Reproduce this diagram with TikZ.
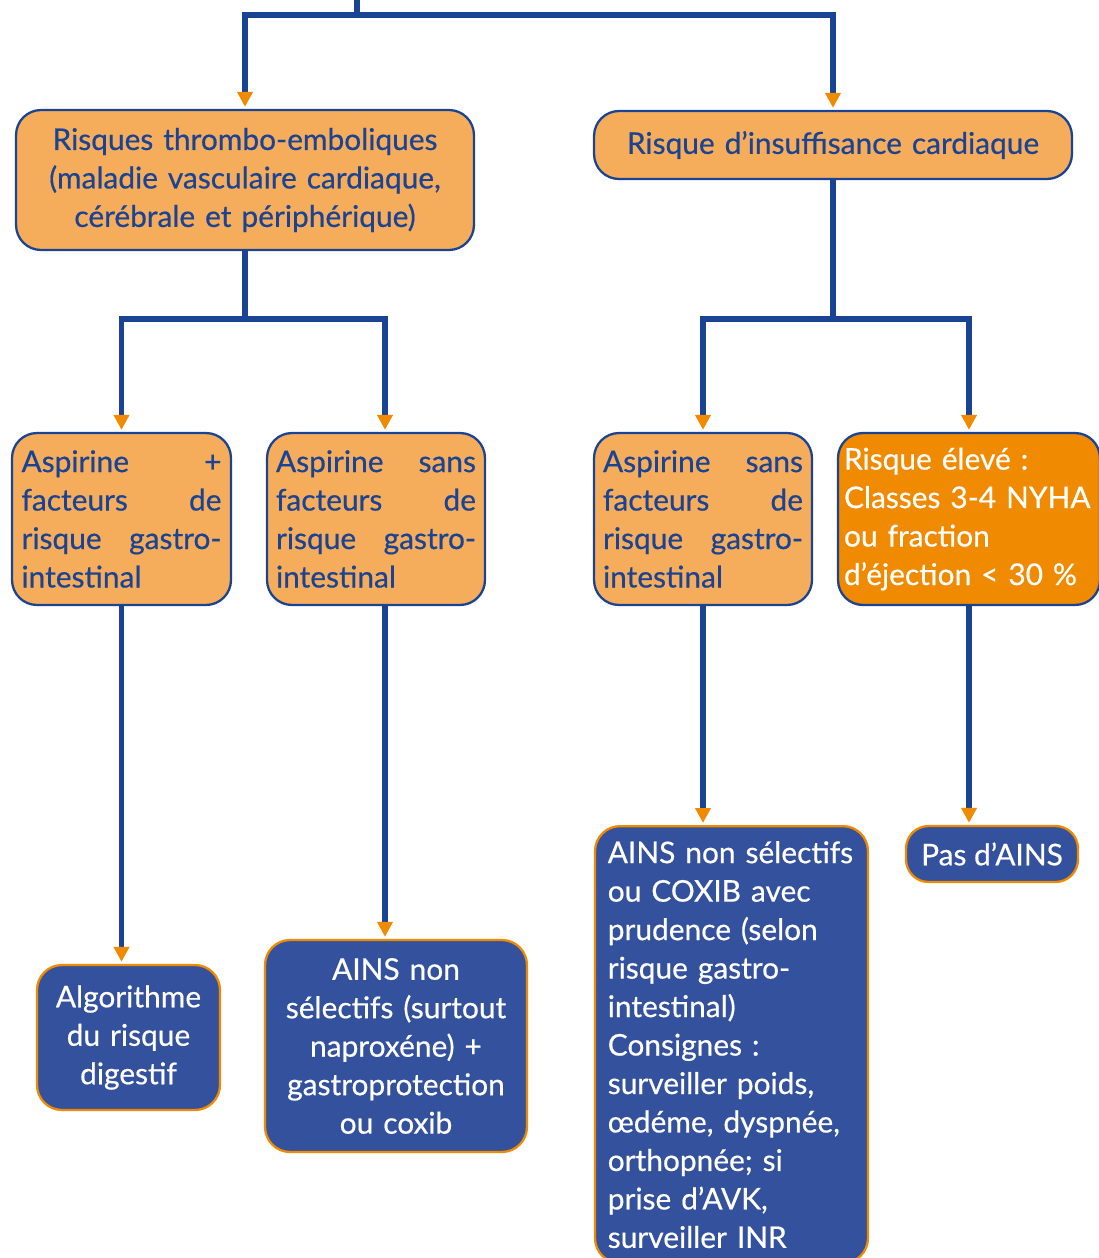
\documentclass[tikz,border=0pt]{standalone}
\usepackage{fontspec}
\setmainfont{Lato}[FakeBold=0.5]
\usetikzlibrary{arrows.meta}
\definecolor{bleu}{HTML}{1B4393}
\definecolor{bleufond}{HTML}{33519D}
\definecolor{orclair}{HTML}{F6AD5B}
\definecolor{orfonce}{HTML}{F08A00}

\begin{document}
\begin{tikzpicture}[x=0.02cm, y=-0.02cm,
    risque/.style ={rectangle, rounded corners=0.5cm, draw=bleu, line width=1.3pt,
      fill=orclair, text=bleu, font=\fontsize{17}{21.9}\selectfont},
    conduite/.style ={rectangle, rounded corners=0.5cm, draw=orfonce, line width=1.3pt,
      fill=bleufond, text=white, font=\fontsize{17}{21.9}\selectfont},
    tronc/.style ={draw=bleu, line width=3.4pt},
    lien/.style ={tronc, -{Triangle[length=0.3cm, width=0.3cm, color=orfonce]}, shorten >=0.04cm}]
   \useasboundingbox (0,0) rectangle (1099,1258);

   \node[risque, text width=8.8cm, align=center, minimum width=9.16cm, minimum height=2.8cm] (A) at (245,180)
     {Risques thrombo-emboliques\\ (maladie vasculaire cardiaque,\\ cérébrale et périphérique)};
   \node[risque, text width=9.2cm, align=center, minimum width=9.56cm, minimum height=1.36cm] (B) at (833,145)
     {Risque d’insuffisance cardiaque};

   \node[risque, text width=4.0cm, align=left, minimum width=4.38cm, minimum height=3.44cm] (C1) at (121.5,519)
     {Aspirine \hfill +\\ facteurs \hfill de\\ risque \hfill gastro-\\ intestinal};
   \node[risque, text width=4.0cm, align=left, minimum width=4.36cm, minimum height=3.44cm] (C2) at (376,519)
     {Aspirine \hfill sans\\ facteurs \hfill de\\ risque \hfill gastro-\\ intestinal};
   \node[risque, text width=4.0cm, align=left, minimum width=4.36cm, minimum height=3.44cm] (C3) at (703,519)
     {Aspirine \hfill sans\\ facteurs \hfill de\\ risque \hfill gastro-\\ intestinal};
   \node[risque, fill=orfonce, text=white, text width=5.0cm, align=left, minimum width=5.24cm, minimum height=3.44cm] (C4) at (969,519)
     {Risque élevé :\\ Classes 3-4 NYHA\\ ou fraction\\ d’éjection < 30 \%};

   \node[conduite, text width=3.4cm, align=center, minimum width=3.66cm, minimum height=2.9cm] (D1) at (128.5,1037.5)
     {Algorithme\\ du risque\\ digestif};
   \node[conduite, text width=4.9cm, align=center, minimum width=5.24cm, minimum height=4.24cm] (D2) at (396,1046)
     {AINS non\\ sélectifs (surtout\\ naproxéne) +\\ gastroprotection\\ ou coxib};
   \node[conduite, text width=4.95cm, align=left, minimum width=5.46cm, inner ysep=0.3cm, anchor=north] (D3) at (731.5,825)
     {AINS non sélectifs\\ ou COXIB avec\\ prudence (selon\\ risque gastro-\\ intestinal)\\ Consignes :\\ surveiller poids,\\ œdéme, dyspnée,\\ orthopnée; si\\ prise d’AVK,\\ surveiller INR};
   \node[conduite, rounded corners=0.45cm, minimum width=3.44cm, minimum height=1.12cm] (D4) at (992,854)
     {Pas d’AINS};

   \coordinate (O) at (357,-10);
   \draw[tronc] (O) -- (357,15) coordinate (O1);
   \draw[lien] (O1) -| (A.north);
   \draw[lien] (O1) -| (B.north);

   \draw[tronc] (A.south) -- ++(0,68) coordinate (A1);
   \draw[lien] (A1) -| (C1.north);
   \draw[lien] (A1) -| ([xshift=0.18cm]C2.north);
   \draw[tronc] (B.south) -- (B.south |- A1) coordinate (B1);
   \draw[lien] (B1) -| (C3.north);
   \draw[lien] (B1) -| (C4.north);

   \draw[lien] (C1.south) -- (C1.south |- D1.north);
   \draw[lien] ([xshift=0.18cm]C2.south) -- ([xshift=0.18cm]C2.south |- D2.north);
   \draw[lien] (C3.south) -- (C3.south |- D3.north);
   \draw[lien] (C4.south) -- (C4.south |- D4.north);
 \end{tikzpicture}
\end{document}
